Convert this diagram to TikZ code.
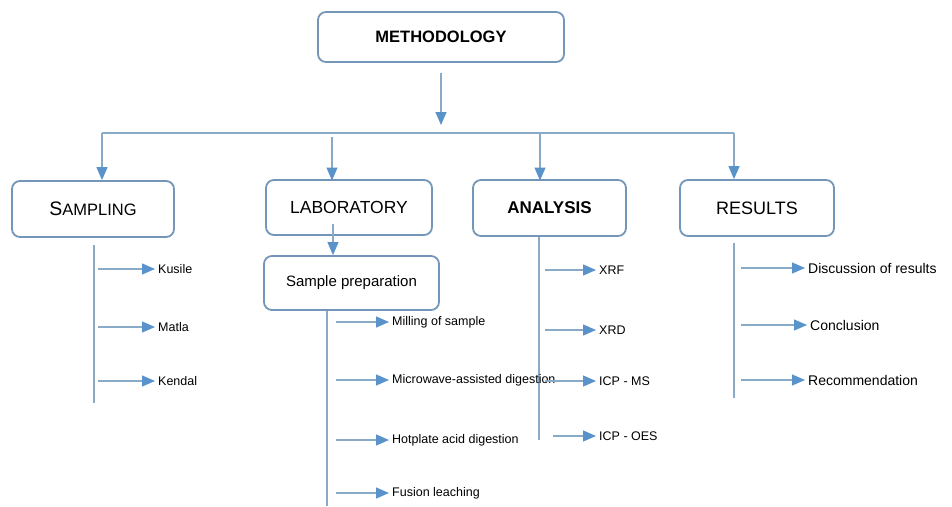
\documentclass[tikz,border=0pt]{standalone}
\usepackage{fontspec}
\setmainfont{Liberation Sans}
\usepackage{tikz}
\usetikzlibrary{arrows.meta}
\usetikzlibrary{calc}
\usetikzlibrary{positioning}
\definecolor{boxblue}{HTML}{7396B9}
\definecolor{lineblue}{HTML}{8AABC8}
\definecolor{tipblue}{HTML}{5A93C9}
\tikzset{stagebox/.style={draw=boxblue, line width=1.8pt, rounded corners=8pt, align=center, inner sep=2pt}}
\tikzset{branch/.style={draw=lineblue, line width=1.2pt}}
\tikzset{flow/.style={branch, -{Triangle[length=13pt,width=11pt,color=tipblue]}}}
\tikzset{leaf/.style={anchor=west, inner sep=3pt, font=\fontsize{12.5}{14}\selectfont}}
\tikzset{bigleaf/.style={anchor=west, inner sep=3pt, font=\fontsize{14}{16}\selectfont}}

\begin{document}
\begin{tikzpicture}[x=1pt, y=-1pt]
        \useasboundingbox (0,0) rectangle (952,506);

        % Top level
        \node[stagebox, minimum width=246pt, minimum height=50pt, font=\fontsize{16.5}{18}\selectfont\bfseries] (method) at (441,37) {METHODOLOGY};

        % Stages
        \node[stagebox, minimum width=162pt, minimum height=56pt, font=\fontsize{16.5}{18}\selectfont] (sampling) at (93,209) {{\fontsize{19.5}{20}\selectfont S}AMPLING};
        \node[stagebox, minimum width=166pt, minimum height=55pt, font=\fontsize{17.5}{19}\selectfont] (laboratory) at (349,207.5) {LABORATORY};
        \node[stagebox, minimum width=153pt, minimum height=56pt, font=\fontsize{17}{19}\selectfont\bfseries] (analysis) at (549.5,208) {ANALYSIS};
        \node[stagebox, minimum width=154pt, minimum height=56pt, font=\fontsize{18}{20}\selectfont] (results) at (757,208) {RESULTS};
        \node[stagebox, minimum width=175pt, minimum height=54pt, font=\fontsize{15}{17}\selectfont] (prep) at (351.5,283) {Sample preparation};

        % Bus from methodology
        \coordinate (busL) at (102,133);
        \coordinate (busR) at (734,133);
        \coordinate (busM) at (441,133);
        \draw[flow] ([yshift=-10pt]method.south) -- ([yshift=8pt]busM);
        \draw[branch] (busL) -- (busR);
        \draw[flow] (busL) -- (busL |- sampling.north);
        \draw[flow] (332,137) -- (332,180.5);
        \draw[flow] (540,133) -- (540,180.5);
        \draw[flow] (busR) -- (busR |- results.north);

        % Laboratory to sample preparation
        \coordinate (labdrop) at (333,224);
        \draw[flow] (labdrop) -- (labdrop |- prep.north);

        % Spines
        \coordinate (sampT) at (94,245);
        \coordinate (sampB) at (94,403);
        \coordinate (prepB) at (327,506);
        \coordinate (analT) at (539,237);
        \coordinate (analB) at (539,440);
        \coordinate (resT) at (734,243);
        \coordinate (resB) at (734,398);
        \draw[branch] (sampT) -- (sampB);
        \draw[branch] (prepB |- prep.south) -- (prepB);
        \draw[branch] (analT) -- (analB);
        \draw[branch] (resT) -- (resB);

        % Sampling sites
        \node[leaf] (kusile) at (155,269) {Kusile};
        \node[leaf] (matla) at (155,327) {Matla};
        \node[leaf] (kendal) at (155,381) {Kendal};
        \foreach \n in {kusile, matla, kendal}
            \draw[flow] (98,0 |- \n.west) -- (\n.west);

        % Preparation steps
        \node[leaf] (milling) at (389,322) {Milling of sample};
        \node[leaf] (microwave) at (389,380) {Microwave-assisted digestion};
        \node[leaf] (hotplate) at (389,440) {Hotplate acid digestion};
        \node[leaf] (fusion) at (389,493) {Fusion leaching};
        \foreach \n in {milling, microwave, hotplate, fusion}
            \draw[flow] (336,0 |- \n.west) -- (\n.west);

        % Analytical techniques
        \node[leaf] (xrf) at (596,270) {XRF};
        \node[leaf] (xrd) at (596,330) {XRD};
        \node[leaf] (icpms) at (596,381) {ICP - MS};
        \node[leaf] (icpoes) at (596,436) {ICP - OES};
        \foreach \n in {xrf, xrd, icpms}
            \draw[flow] (545,0 |- \n.west) -- (\n.west);
        \draw[flow] (553,0 |- icpoes.west) -- (icpoes.west);

        % Outcomes
        \node[bigleaf] (discussion) at (805,268) {Discussion of results};
        \node[bigleaf] (conclusion) at (807,325) {Conclusion};
        \node[bigleaf] (recommend) at (805,380) {Recommendation};
        \foreach \n in {discussion, conclusion, recommend}
            \draw[flow] (741,0 |- \n.west) -- (\n.west);
    \end{tikzpicture}
\end{document}
